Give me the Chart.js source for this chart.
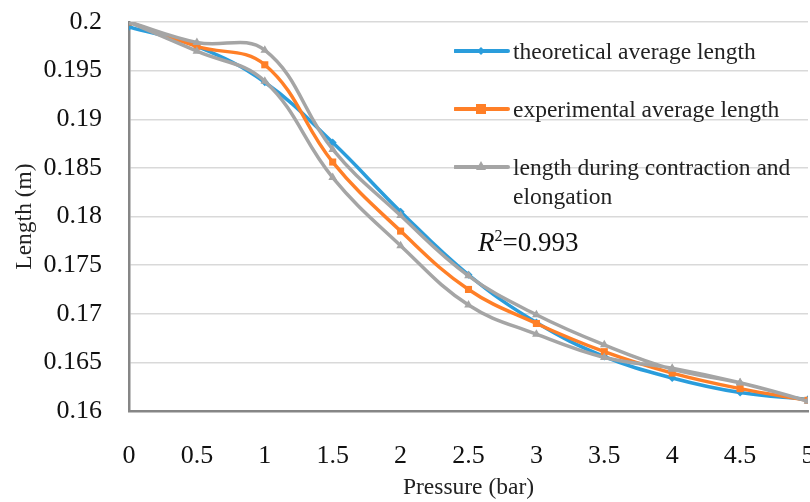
<!DOCTYPE html>
<html>
<head>
<meta charset="utf-8">
<script src="https://cdn.jsdelivr.net/npm/chart.js@4"></script>
<style>
  html, body { margin: 0; padding: 0; background: #fff; overflow: hidden; }
  #wrap { position: relative; width: 830px; height: 502px; }
  .leg { position: absolute; left: 454px; font-family: "Liberation Serif", serif; font-size: 23.5px; color: #222; line-height: 29px; }
  .leg svg { position: absolute; left: 0; top: 7px; }
  .leg span { position: absolute; left: 59px; top: 0; white-space: nowrap; }
  #r2 { position: absolute; left: 478px; top: 227px; font-family: "Liberation Serif", serif; font-size: 27px; color: #111; }
</style>
</head>
<body>
<div id="wrap">
  <canvas id="chart" width="830" height="502"></canvas>
  <div class="leg" style="top:37px">
    <svg width="56" height="14"><line x1="1" y1="7" x2="54" y2="7" stroke="#2a9ddc" stroke-width="4" stroke-linecap="round"/><path d="M27 3 L31 7 L27 11 L23 7 Z" fill="#2a9ddc"/></svg>
    <span>theoretical average length</span>
  </div>
  <div class="leg" style="top:95px">
    <svg width="56" height="14"><line x1="1" y1="7" x2="54" y2="7" stroke="#ff7f27" stroke-width="4" stroke-linecap="round"/><rect x="22" y="2" width="10" height="10" fill="#ff7f27"/></svg>
    <span>experimental average length</span>
  </div>
  <div class="leg" style="top:153px">
    <svg width="56" height="14"><line x1="1" y1="7" x2="54" y2="7" stroke="#a5a5a5" stroke-width="4" stroke-linecap="round"/><path d="M27 1 L32 10 L22 10 Z" fill="#a5a5a5"/></svg>
    <span>length during contraction and<br>elongation</span>
  </div>
  <div id="r2"><i>R</i><sup style="font-size:16px">2</sup>=0.993</div>
</div>
<script>
const pressure = [0, 0.5, 1, 1.5, 2, 2.5, 3, 3.5, 4, 4.5, 5];
const theoretical = [0.1995, 0.1975, 0.1938, 0.1876, 0.1805, 0.1740, 0.1691, 0.1656, 0.1634, 0.1619, 0.1612];
const experimental = [0.2000, 0.1975, 0.1956, 0.1856, 0.1785, 0.1725, 0.1690, 0.1661, 0.1639, 0.1623, 0.1611];
// contraction (pressure rising) then elongation (pressure falling)
const contraction = [0.2000, 0.1979, 0.1971, 0.1869, 0.1801, 0.1739, 0.1699, 0.1668, 0.1643, 0.1629, 0.1610];
const elongationP = [4.5, 4, 3.5, 3, 2.5, 2, 1.5, 1, 0.5, 0];
const elongation = [0.1629, 0.1644, 0.1655, 0.1679, 0.1709, 0.1770, 0.1840, 0.1939, 0.1970, 0.2000];
const xTicks = [0, 0.5, 1, 1.5, 2, 2.5, 3, 3.5, 4, 4.5, 5];
const yTicks = [0.16, 0.165, 0.17, 0.175, 0.18, 0.185, 0.19, 0.195, 0.2];

const pts = (xs, ys) => xs.map((x, i) => ({ x: x, y: ys[i] }));
const loop = pts(pressure, contraction).concat(pts(elongationP, elongation));

const tickFont = { family: 'Liberation Serif', size: 26 };
const titleFont = { family: 'Liberation Serif', size: 23.5 };

new Chart(document.getElementById('chart'), {
    type: 'scatter',
    data: {
        datasets: [
            { label: 'length during contraction and elongation', data: loop, showLine: true, tension: 0.4,
              borderColor: '#a5a5a5', backgroundColor: '#a5a5a5', borderWidth: 3.5,
              pointStyle: 'triangle', pointRadius: 5, pointBorderWidth: 0 },
            { label: 'experimental average length', data: pts(pressure, experimental), showLine: true, tension: 0.4,
              borderColor: '#ff7f27', backgroundColor: '#ff7f27', borderWidth: 3.5,
              pointStyle: 'rect', pointRadius: 5, pointBorderWidth: 0 },
            { label: 'theoretical average length', data: pts(pressure, theoretical), showLine: true, tension: 0.4,
              borderColor: '#2a9ddc', backgroundColor: '#2a9ddc', borderWidth: 3.5,
              pointStyle: 'rectRot', pointRadius: 4, pointBorderWidth: 0 }
        ]
    },
    options: {
        responsive: false,
        animation: false,
        layout: { padding: { left: 0, top: 22, right: 22, bottom: 0 } },
        plugins: { legend: { display: false }, tooltip: { enabled: false } },
        scales: {
            x: {
                type: 'linear', min: 0, max: 5,
                afterBuildTicks: s => { s.ticks = xTicks.map(v => ({ value: v })); },
                afterFit: s => { s.height = 91; s.paddingLeft = 0; s.paddingRight = 0; },
                grid: { display: false },
                border: { display: true, color: '#868686', width: 2.5 },
                ticks: { color: '#111', font: tickFont, padding: 22, maxRotation: 0, callback: v => String(v) },
                title: { display: true, text: 'Pressure (bar)', color: '#222', font: titleFont, padding: { top: 0, bottom: 0 } }
            },
            y: {
                type: 'linear', min: 0.16, max: 0.2,
                afterBuildTicks: s => { s.ticks = yTicks.map(v => ({ value: v })); },
                afterFit: s => { s.width = 129; s.paddingTop = 0; s.paddingBottom = 0; },
                grid: { color: '#d9d9d9', lineWidth: 1.5, drawTicks: false },
                border: { display: true, color: '#868686', width: 2.5 },
                ticks: { color: '#111', font: tickFont, padding: 27, callback: v => String(+v.toFixed(3)) },
                title: { display: true, text: 'Length (m)', color: '#222', font: titleFont, padding: { top: 11, bottom: 0 } }
            }
        }
    }
});
</script>
</body>
</html>
